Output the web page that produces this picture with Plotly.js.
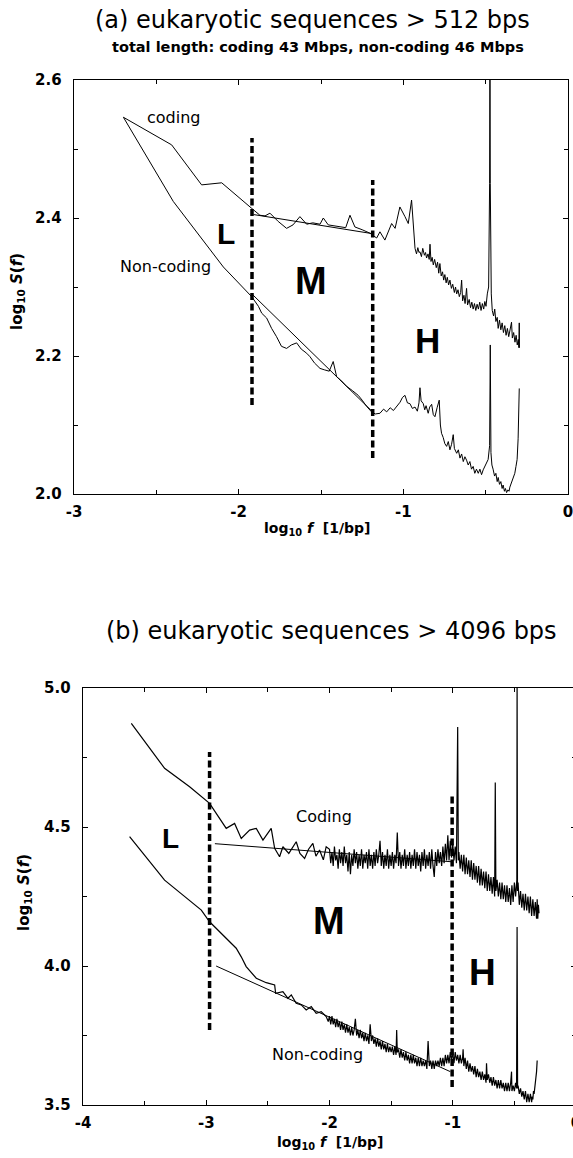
<!DOCTYPE html>
<html><head><meta charset="utf-8">
<script src="https://cdn.plot.ly/plotly-3.0.1.min.js"></script>
<style>html,body{margin:0;padding:0;overflow:hidden;background:#fff;width:573px;height:1158px}#chart{width:590px;height:1158px}</style>
</head><body><div id="chart"></div>
<script>
// ---------- Panel (a): eukaryotic sequences > 512 bps ----------
const a_coding_logf = [-2.70,-2.407,-2.225,-2.103,-1.921,-1.871,-1.84,-1.81,-1.76,-1.709,-1.67,-1.628,-1.587,-1.55,-1.506,-1.486,-1.456,-1.40,-1.35,-1.324,-1.294,-1.25,-1.203,-1.162,-1.142,-1.112,-1.09,-1.071,-1.05,-1.021,-0.990,-0.970,-0.950,-0.940,
 -0.929,-0.92,-0.912,-0.905,-0.899,-0.89,-0.882,-0.872,-0.865,-0.859,-0.85,-0.843,-0.838,-0.832,-0.825,-0.818,-0.81,-0.80,-0.792,-0.785,-0.778,-0.77,-0.762,-0.755,-0.748,-0.74,-0.733,-0.725,-0.717,-0.708,-0.70,-0.69,-0.683,-0.676,-0.668,-0.66,-0.652,-0.646,-0.64,-0.632,-0.625,-0.616,-0.61,-0.60,-0.592,-0.584,-0.576,-0.568,-0.56,-0.552,-0.544,-0.536,-0.528,-0.52,-0.512,-0.505,-0.498,-0.49,-0.482,-0.476,-0.474,-0.472,-0.466,-0.46,-0.452,-0.445,-0.438,-0.43,-0.424,-0.416,-0.408,-0.40,-0.392,-0.384,-0.376,-0.368,-0.36,-0.352,-0.343,-0.338,-0.33,-0.322,-0.315,-0.308,-0.302,-0.298,-0.296,-0.295];
const a_coding_logS = [2.546,2.506,2.448,2.451,2.414,2.404,2.403,2.407,2.395,2.385,2.390,2.402,2.391,2.393,2.391,2.400,2.390,2.388,2.386,2.404,2.387,2.383,2.378,2.371,2.380,2.368,2.380,2.392,2.385,2.416,2.402,2.392,2.426,2.387,
 2.356,2.348,2.357,2.350,2.351,2.344,2.356,2.346,2.350,2.342,2.348,2.340,2.362,2.337,2.343,2.332,2.340,2.328,2.336,2.320,2.334,2.316,2.322,2.310,2.318,2.306,2.314,2.303,2.310,2.298,2.304,2.292,2.300,2.290,2.296,2.286,2.292,2.310,2.280,2.288,2.276,2.298,2.274,2.282,2.270,2.278,2.268,2.276,2.266,2.275,2.268,2.278,2.266,2.276,2.268,2.279,2.272,2.290,2.300,2.45,2.64,2.45,2.290,2.266,2.258,2.268,2.250,2.256,2.240,2.252,2.238,2.248,2.234,2.244,2.230,2.240,2.228,2.238,2.249,2.226,2.234,2.220,2.230,2.216,2.224,2.212,2.248,2.212];

const a_noncoding_logf = [-2.70,-2.397,-2.093,-1.921,-1.88,-1.86,-1.83,-1.80,-1.77,-1.74,-1.709,-1.68,-1.648,-1.62,-1.587,-1.567,-1.54,-1.506,-1.48,-1.45,-1.426,-1.405,-1.38,-1.344,-1.31,-1.274,-1.25,-1.223,-1.193,-1.17,-1.142,-1.12,-1.101,-1.08,-1.06,-1.041,-1.02,-1.005,
 -0.990,-0.975,-0.96,-0.945,-0.929,-0.915,-0.905,-0.899,-0.892,-0.879,-0.87,-0.862,-0.849,-0.84,-0.828,-0.818,-0.808,-0.795,-0.782,-0.775,-0.768,-0.758,-0.748,-0.737,-0.727,-0.717,-0.707,-0.697,-0.69,-0.676,-0.666,-0.656,-0.646,-0.636,-0.626,-0.616,-0.606,-0.596,-0.586,-0.576,-0.566,-0.556,-0.545,-0.535,-0.525,-0.515,-0.505,-0.495,-0.485,-0.476,-0.472,-0.468,-0.462,-0.455,-0.446,-0.438,-0.43,-0.424,-0.416,-0.408,-0.40,-0.394,-0.386,-0.38,-0.373,-0.365,-0.358,-0.353,-0.345,-0.338,-0.330,-0.323,-0.316,-0.309,-0.303,-0.299,-0.296];
const a_noncoding_logS = [2.546,2.424,2.329,2.286,2.272,2.262,2.255,2.240,2.228,2.214,2.211,2.216,2.219,2.210,2.204,2.199,2.190,2.182,2.180,2.178,2.192,2.170,2.165,2.156,2.150,2.143,2.136,2.127,2.119,2.116,2.117,2.123,2.119,2.125,2.121,2.127,2.133,2.140,
 2.143,2.132,2.131,2.124,2.126,2.120,2.132,2.154,2.135,2.131,2.122,2.128,2.117,2.126,2.130,2.115,2.112,2.125,2.136,2.100,2.088,2.082,2.073,2.069,2.076,2.064,2.072,2.086,2.066,2.059,2.064,2.052,2.058,2.047,2.054,2.049,2.042,2.047,2.036,2.040,2.030,2.036,2.030,2.036,2.028,2.035,2.040,2.045,2.050,2.07,2.216,2.06,2.042,2.036,2.026,2.030,2.018,2.024,2.014,2.018,2.008,2.013,2.004,2.008,2.002,2.006,2.004,2.010,2.016,2.020,2.028,2.030,2.040,2.050,2.080,2.120,2.153];

const a_codingFit_logf = [-1.91, -1.18];
const a_codingFit_logS = [2.405, 2.377];
const a_noncodingFit_logf = [-1.92, -1.186];
const a_noncodingFit_logS = [2.290, 2.119];
const a_bounds_logf = [-1.919, -1.186];
const a_bounds_top = [2.516, 2.455];
const a_bounds_bottom = [2.129, 2.052];

// ---------- Panel (b): eukaryotic sequences > 4096 bps ----------
const b_coding_logf = [-3.608,-3.338,-3.135,-2.973,-2.838,-2.770,-2.716,-2.648,-2.594,-2.540,-2.473,-2.445,-2.405,-2.378,-2.33,-2.30,-2.270,-2.24,-2.202,-2.17,-2.135,-2.11,-2.081,-2.05,-2.027,
 -2.00,-1.99,-1.98,-1.97,-1.96,-1.95,-1.94,-1.93,-1.92,-1.91,-1.90,-1.89,-1.88,-1.87,-1.86,-1.85,-1.84,-1.83,-1.82,-1.81,-1.80,-1.79,-1.78,-1.77,-1.76,-1.75,-1.74,-1.73,-1.72,-1.71,-1.70,-1.69,-1.68,-1.67,-1.66,-1.65,-1.64,-1.63,-1.62,-1.61,-1.60,-1.59,-1.58,-1.57,-1.56,-1.55,-1.54,-1.53,-1.52,-1.51,-1.50,-1.49,-1.48,-1.47,-1.46,-1.45,-1.44,-1.43,-1.42,-1.41,-1.40,-1.39,-1.38,-1.37,-1.36,-1.35,-1.34,-1.33,-1.32,-1.31,-1.30,-1.29,-1.28,-1.27,-1.26,-1.25,-1.24,-1.23,-1.22,-1.21,-1.20,-1.19,-1.18,-1.17,-1.16,-1.15,-1.14,-1.13,-1.12,-1.11,-1.10,-1.09,-1.08,-1.07,-1.06,-1.05,-1.04,-1.03,-1.02,-1.01,-1.00,-0.99,-0.98,-0.97,-0.96,-0.955,-0.95,-0.94,-0.93,-0.92,-0.91,-0.90,-0.89,-0.88,-0.87,-0.86,-0.85,-0.84,-0.83,-0.82,-0.81,-0.80,-0.79,-0.78,-0.77,-0.76,-0.75,-0.74,-0.73,-0.72,-0.71,-0.70,-0.69,-0.68,-0.67,-0.66,-0.655,-0.65,-0.64,-0.63,-0.62,-0.61,-0.60,-0.59,-0.58,-0.57,-0.56,-0.55,-0.54,-0.53,-0.52,-0.51,-0.50,-0.49,-0.48,-0.478,-0.475,-0.47,-0.46,-0.45,-0.44,-0.43,-0.42,-0.41,-0.40,-0.39,-0.38,-0.37,-0.36,-0.35,-0.34,-0.33,-0.32,-0.315,-0.31,-0.305,-0.30];
const b_coding_logS = [4.873,4.711,4.645,4.585,4.495,4.513,4.459,4.489,4.495,4.453,4.495,4.423,4.393,4.429,4.405,4.425,4.447,4.405,4.387,4.420,4.441,4.395,4.417,4.382,4.429,
 4.42,4.37,4.41,4.36,4.43,4.38,4.40,4.35,4.42,4.37,4.41,4.36,4.43,4.37,4.40,4.34,4.41,4.33,4.40,4.36,4.42,4.37,4.41,4.35,4.40,4.36,4.42,4.35,4.40,4.37,4.41,4.35,4.42,4.36,4.40,4.35,4.41,4.36,4.42,4.37,4.40,4.45,4.36,4.41,4.35,4.40,4.36,4.42,4.35,4.40,4.36,4.41,4.35,4.40,4.37,4.48,4.36,4.41,4.35,4.40,4.36,4.42,4.35,4.40,4.36,4.41,4.35,4.40,4.36,4.42,4.35,4.41,4.36,4.40,4.34,4.41,4.36,4.42,4.35,4.40,4.36,4.41,4.35,4.42,4.36,4.32,4.41,4.36,4.42,4.37,4.41,4.36,4.43,4.37,4.44,4.38,4.47,4.38,4.45,4.39,4.44,4.38,4.43,4.37,4.86,4.38,4.41,4.35,4.40,4.34,4.40,4.33,4.39,4.33,4.38,4.32,4.38,4.31,4.37,4.31,4.36,4.30,4.36,4.29,4.35,4.29,4.34,4.28,4.34,4.27,4.33,4.27,4.32,4.26,4.32,4.25,4.66,4.27,4.31,4.25,4.30,4.24,4.30,4.24,4.29,4.23,4.29,4.23,4.28,4.22,4.29,4.23,4.30,4.25,4.31,5.05,4.27,4.30,4.22,4.27,4.21,4.26,4.20,4.26,4.20,4.25,4.19,4.25,4.18,4.24,4.18,4.23,4.17,4.24,4.17,4.22,4.19];

const b_noncoding_logf = [-3.622,-3.338,-3.189,-3.040,-2.973,-2.865,-2.757,-2.716,-2.676,-2.594,-2.513,-2.445,-2.437,-2.378,-2.337,-2.310,-2.270,-2.229,-2.189,-2.148,-2.108,-2.067,-2.027,
 -2.01,-2.00,-1.99,-1.98,-1.97,-1.96,-1.95,-1.94,-1.93,-1.92,-1.91,-1.90,-1.89,-1.88,-1.87,-1.86,-1.85,-1.84,-1.83,-1.82,-1.81,-1.80,-1.79,-1.78,-1.77,-1.76,-1.75,-1.74,-1.73,-1.72,-1.71,-1.70,-1.69,-1.68,-1.67,-1.66,-1.65,-1.64,-1.63,-1.62,-1.61,-1.60,-1.59,-1.58,-1.57,-1.56,-1.55,-1.54,-1.53,-1.52,-1.51,-1.50,-1.49,-1.48,-1.47,-1.46,-1.455,-1.45,-1.44,-1.43,-1.42,-1.41,-1.40,-1.39,-1.38,-1.37,-1.36,-1.35,-1.34,-1.33,-1.32,-1.31,-1.30,-1.29,-1.28,-1.27,-1.26,-1.25,-1.24,-1.23,-1.22,-1.21,-1.20,-1.19,-1.18,-1.17,-1.16,-1.15,-1.14,-1.13,-1.12,-1.11,-1.10,-1.09,-1.08,-1.07,-1.06,-1.05,-1.04,-1.03,-1.02,-1.01,-1.00,-0.99,-0.98,-0.97,-0.96,-0.95,-0.94,-0.93,-0.92,-0.916,-0.91,-0.90,-0.89,-0.88,-0.87,-0.86,-0.85,-0.84,-0.83,-0.82,-0.81,-0.80,-0.79,-0.78,-0.77,-0.76,-0.75,-0.74,-0.73,-0.726,-0.72,-0.71,-0.70,-0.69,-0.68,-0.67,-0.66,-0.65,-0.64,-0.63,-0.62,-0.61,-0.60,-0.59,-0.58,-0.57,-0.56,-0.55,-0.54,-0.53,-0.523,-0.52,-0.51,-0.50,-0.49,-0.482,-0.478,-0.474,-0.47,-0.46,-0.45,-0.44,-0.43,-0.42,-0.41,-0.40,-0.39,-0.38,-0.37,-0.36,-0.355,-0.35,-0.345,-0.34,-0.335,-0.33,-0.325,-0.32,-0.315];
const b_noncoding_logS = [4.465,4.309,4.255,4.201,4.159,4.112,4.064,4.033,3.998,3.956,3.940,3.932,3.902,3.908,3.884,3.896,3.866,3.860,3.842,3.854,3.830,3.836,3.818,
 3.80,3.82,3.79,3.82,3.79,3.81,3.78,3.81,3.78,3.80,3.77,3.80,3.77,3.79,3.76,3.79,3.76,3.78,3.75,3.78,3.75,3.77,3.81,3.75,3.77,3.74,3.77,3.74,3.76,3.73,3.76,3.73,3.75,3.72,3.79,3.73,3.75,3.72,3.74,3.71,3.74,3.71,3.73,3.70,3.73,3.70,3.72,3.69,3.72,3.69,3.71,3.69,3.71,3.68,3.71,3.68,3.77,3.69,3.70,3.67,3.70,3.67,3.69,3.66,3.69,3.66,3.68,3.65,3.68,3.65,3.68,3.65,3.67,3.64,3.67,3.64,3.67,3.64,3.66,3.64,3.66,3.63,3.73,3.64,3.66,3.63,3.66,3.63,3.66,3.64,3.66,3.64,3.67,3.64,3.67,3.64,3.68,3.65,3.68,3.65,3.69,3.66,3.69,3.65,3.69,3.66,3.68,3.65,3.68,3.65,3.67,3.70,3.64,3.67,3.63,3.66,3.62,3.65,3.62,3.64,3.61,3.64,3.60,3.63,3.60,3.62,3.59,3.62,3.59,3.61,3.58,3.65,3.59,3.61,3.58,3.60,3.57,3.60,3.57,3.59,3.56,3.59,3.56,3.59,3.56,3.58,3.55,3.58,3.55,3.58,3.55,3.58,3.62,3.55,3.57,3.55,3.58,3.56,4.14,3.56,3.57,3.54,3.56,3.53,3.55,3.52,3.55,3.51,3.54,3.51,3.54,3.51,3.53,3.52,3.55,3.54,3.57,3.57,3.60,3.62,3.66];

const b_codingFit_logf = [-2.93, -1.01];
const b_codingFit_logS = [4.440, 4.375];
const b_noncodingFit_logf = [-2.92, -1.02];
const b_noncodingFit_logS = [4.000, 3.620];
const b_bounds_logf = [-2.973, -1.005];
const b_bounds_top = [4.770, 4.612];
const b_bounds_bottom = [3.770, 3.565];

// ---------- ticks ----------
const a_xticks = [-3, -2, -1, 0];
const a_xticklabels = ["-3", "-2", "-1", "0"];
const a_yticks = [2.0, 2.2, 2.4, 2.6];
const a_yticklabels = ["2.0", "2.2", "2.4", "2.6"];
const a_xminor = [-2.5, -1.5, -0.5];
const a_yminor = [2.1, 2.3, 2.5];
const b_xticks = [-4, -3, -2, -1, 0];
const b_xticklabels = ["-4", "-3", "-2", "-1", "0"];
const b_yticks = [3.5, 4.0, 4.5, 5.0];
const b_yticklabels = ["3.5", "4.0", "4.5", "5.0"];
const b_xminor = [-3.5, -2.5, -1.5, -0.5];
const b_yminor = [3.75, 4.25, 4.75];

// ---------- layout geometry (pixels) ----------
const W = 590, H = 1158;
const fx = p => p / W, fy = p => 1 - p / H;

const dataLine = {color: '#000', width: 1};
const bandLine = {color: '#000', width: 1.2};
const fitLine = {color: '#000', width: 1};
const dashLine = {color: '#000', width: 3.5, dash: '7px,3.5px'};

function boundTraces(xs, tops, bottoms, xa, ya) {
  return xs.map((x, i) => ({x: [x, x], y: [bottoms[i], tops[i]], mode: 'lines', line: dashLine, xaxis: xa, yaxis: ya, hoverinfo: 'skip'}));
}

const traces = [
  {x: a_coding_logf, y: a_coding_logS, mode: 'lines', line: dataLine, xaxis: 'x', yaxis: 'y'},
  {x: a_noncoding_logf, y: a_noncoding_logS, mode: 'lines', line: dataLine, xaxis: 'x', yaxis: 'y'},
  {x: a_codingFit_logf, y: a_codingFit_logS, mode: 'lines', line: fitLine, xaxis: 'x', yaxis: 'y'},
  {x: a_noncodingFit_logf, y: a_noncodingFit_logS, mode: 'lines', line: fitLine, xaxis: 'x', yaxis: 'y'},
  ...boundTraces(a_bounds_logf, a_bounds_top, a_bounds_bottom, 'x', 'y'),
  {x: b_coding_logf, y: b_coding_logS, mode: 'lines', line: bandLine, xaxis: 'x2', yaxis: 'y2'},
  {x: b_noncoding_logf, y: b_noncoding_logS, mode: 'lines', line: bandLine, xaxis: 'x2', yaxis: 'y2'},
  {x: b_codingFit_logf, y: b_codingFit_logS, mode: 'lines', line: fitLine, xaxis: 'x2', yaxis: 'y2'},
  {x: b_noncodingFit_logf, y: b_noncodingFit_logS, mode: 'lines', line: fitLine, xaxis: 'x2', yaxis: 'y2'},
  ...boundTraces(b_bounds_logf, b_bounds_top, b_bounds_bottom, 'x2', 'y2')
];

const tickFont = {family: 'DejaVu Sans', size: 15, color: '#000', weight: 'bold'};
function axis(domain, range, tickvals, ticktext, minorvals, anchor, standoff) {
  return {
    domain: domain, range: range, anchor: anchor, fixedrange: true,
    tickmode: 'array', tickvals: tickvals, ticktext: ticktext,
    ticks: 'inside', ticklen: 5, tickwidth: 1, tickcolor: '#000',
    showline: true, linecolor: '#000', linewidth: 1.3, mirror: 'ticks',
    showgrid: false, zeroline: false, tickfont: tickFont, ticklabelstandoff: standoff,
    minor: {tickmode: 'array', tickvals: minorvals, ticks: 'inside', ticklen: 4, tickwidth: 1, tickcolor: '#000', showgrid: false}
  };
}

const txt = (t, x, y, size, extra) => Object.assign({text: t, x: x, y: y, xref: 'paper', yref: 'paper', showarrow: false,
  xanchor: 'center', yanchor: 'middle', font: {family: 'DejaVu Sans', size: size, color: '#000'}}, extra || {});
const dtxt = (t, x, y, xr, yr, font) => ({text: t, x: x, y: y, xref: xr, yref: yr, showarrow: false, xanchor: 'center', yanchor: 'middle', font: font});
const lblFont = {family: 'DejaVu Sans', size: 16, color: '#000'};
const big = s => ({family: 'Liberation Sans', size: s, color: '#000', weight: 'bold'});
const axTitleFont = {family: 'DejaVu Sans', size: 14, color: '#000', weight: 'bold'};
const yTitleFont = {family: 'DejaVu Sans', size: 15, color: '#000', weight: 'bold'};

const layout = {
  width: W, height: H, margin: {l: 0, r: 0, t: 0, b: 0},
  paper_bgcolor: '#fff', plot_bgcolor: '#fff', showlegend: false,
  xaxis: axis([fx(74), fx(568)], [-3, 0], a_xticks, a_xticklabels, a_xminor, 'y', 4),
  yaxis: axis([fy(494), fy(80)], [2.0, 2.6], a_yticks, a_yticklabels, a_yminor, 'x', 8),
  xaxis2: axis([fx(83), fx(576)], [-4, 0], b_xticks, b_xticklabels, b_xminor, 'y2', 4),
  yaxis2: axis([fy(1105), fy(688)], [3.5, 5.0], b_yticks, b_yticklabels, b_yminor, 'x2', 8),
  annotations: [
    txt('(a) eukaryotic sequences > 512 bps', fx(312), fy(20), 24),
    txt('total length: coding 43 Mbps, non-coding 46 Mbps', fx(318), fy(47), 14.5, {font: {family: 'DejaVu Sans', size: 14.5, color: '#000', weight: 'bold'}}),
    txt('(b) eukaryotic sequences > 4096 bps', fx(331), fy(631), 24),
    txt('log<sub>10</sub> <i>f</i>  [1/bp]', fx(317), fy(529), 14, {font: axTitleFont}),
    txt('log<sub>10</sub> <i>f</i>  [1/bp]', fx(330), fy(1143), 14, {font: axTitleFont}),
    txt('log<sub>10</sub> <i>S</i>(<i>f</i>)', fx(18), fy(292), 15, {font: yTitleFont, textangle: -90}),
    txt('log<sub>10</sub> <i>S</i>(<i>f</i>)', fx(24), fy(893), 15, {font: yTitleFont, textangle: -90}),
    dtxt('coding', -2.393, 2.546, 'x', 'y', lblFont),
    dtxt('Non-coding', -2.447, 2.329, 'x', 'y', lblFont),
    dtxt('L', -2.077, 2.378, 'x', 'y', big(30)),
    dtxt('M', -1.561, 2.309, 'x', 'y', big(38)),
    dtxt('H', -0.851, 2.222, 'x', 'y', big(35)),
    dtxt('Coding', -2.045, 4.536, 'x2', 'y2', lblFont),
    dtxt('Non-coding', -2.094, 3.683, 'x2', 'y2', lblFont),
    dtxt('L', -3.294, 4.460, 'x2', 'y2', big(28)),
    dtxt('M', -2.005, 4.162, 'x2', 'y2', big(38)),
    dtxt('H', -0.756, 3.975, 'x2', 'y2', big(37))
  ]
};

Plotly.newPlot('chart', traces, layout, {staticPlot: true, displayModeBar: false});
</script></body></html>
